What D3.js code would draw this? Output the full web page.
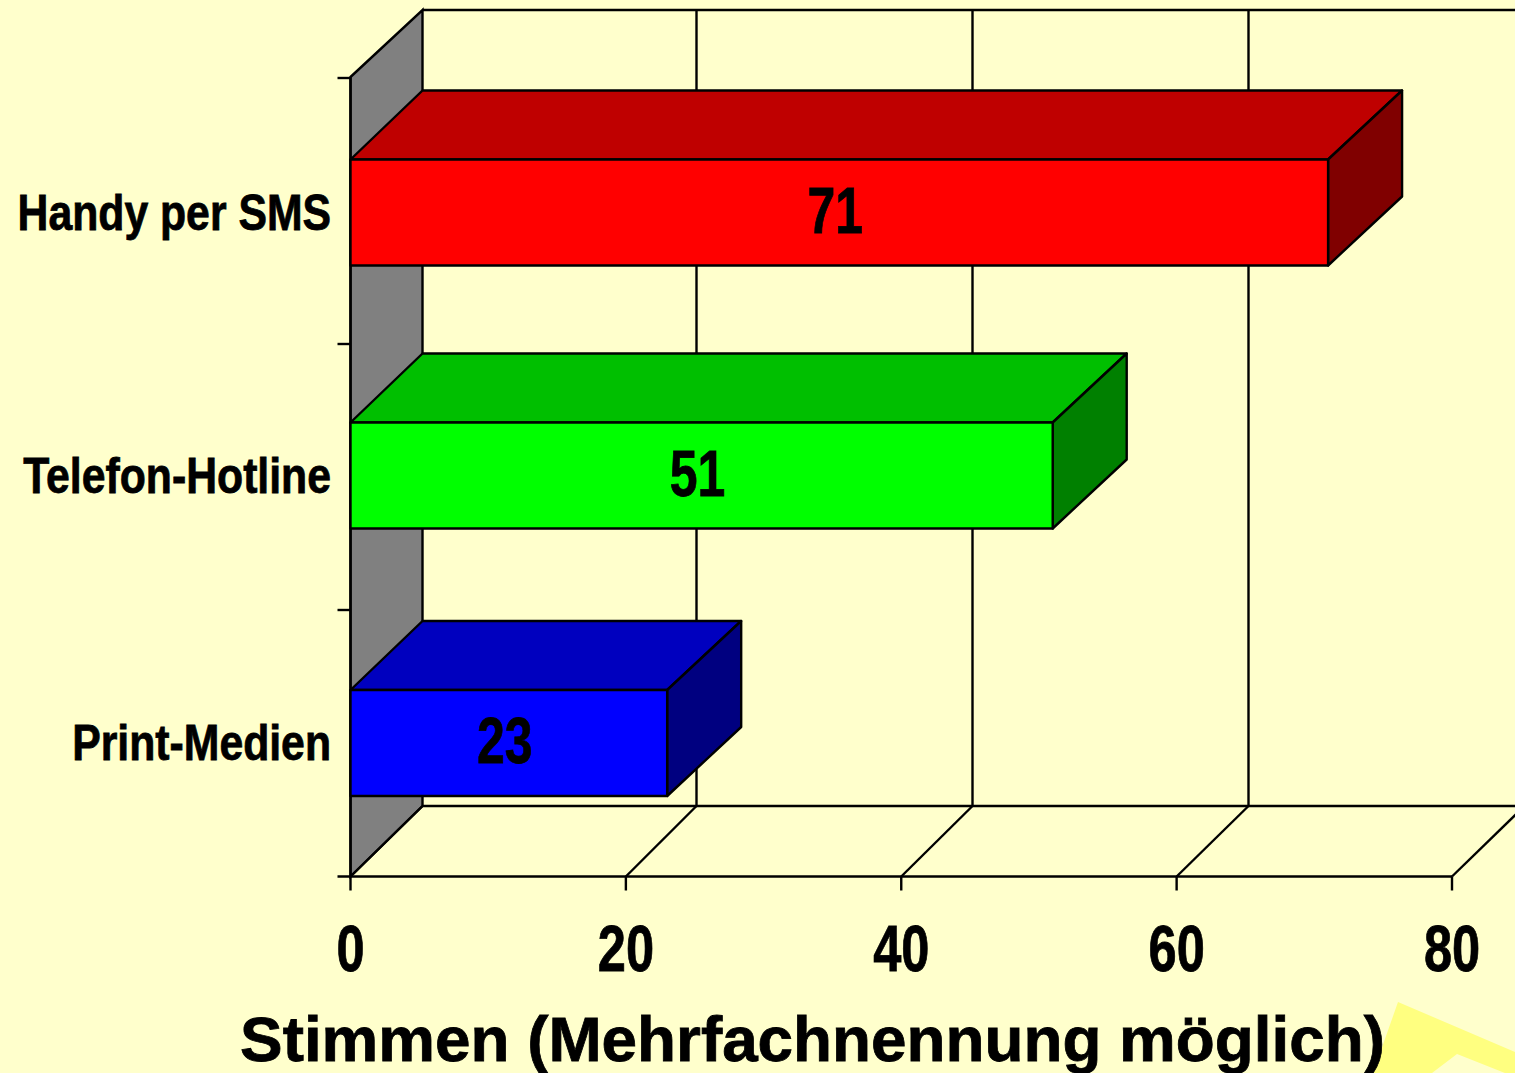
<!DOCTYPE html>
<html><head><meta charset="utf-8">
<script src="https://cdn.jsdelivr.net/npm/d3@7/dist/d3.min.js"></script>
<style>html,body{margin:0;padding:0;background:#FFFFCC;overflow:hidden}svg{display:block}text{font-family:"Liberation Sans",Arial,sans-serif;font-weight:bold;fill:#000;stroke:#000;stroke-width:.8px}</style>
</head><body><svg id="c" width="1515" height="1073"></svg>
<script>
const categories = ["Handy per SMS", "Telefon-Hotline", "Print-Medien"];
const values = [71, 51, 23];
const frontColors = ["#FF0000", "#00FF00", "#0000FF"];
const topColors = ["#BF0000", "#00BF00", "#0000BF"];
const sideColors = ["#800000", "#008000", "#000080"];
const xTicks = [0, 20, 40, 60, 80];
const axisTitle = "Stimmen (Mehrfachnennung möglich)";

const svg = d3.select("#c");
const W = 1515, H = 1073;
const x = d3.scaleLinear().domain([0, 80]).range([350.5, 1452]);
const xBack = d3.scaleLinear().domain([0, 80]).range([420.5, 1524.5]);
const band = d3.scaleBand().domain(categories).range([78, 876]);
const center = d3.scaleOrdinal().domain(categories).range([212.5, 475.5, 743]);
const barH = 106, depthX = 72, depthY = 69, barDX = 74;
const frontY = 876.5, topY = 77, backTop = 10, backBottom = 806;
const wallX = x(0) + depthX;
const ln = d3.line();

svg.append("path").attr("fill", "#FFFF80")
  .attr("d", "M1398,1002L1515,1052L1515,1077L1457,1054L1432,1073L1373,1073Z");

const g = svg.append("g").attr("stroke", "#000").attr("stroke-width", 2.4).attr("fill", "none");
// left wall
g.append("path").attr("fill", "#808080").attr("d", ln([
  [x(0), topY], [wallX, backTop], [wallX, backBottom], [x(0), frontY]
]) + "Z");
// back wall frame and gridlines
g.append("path").attr("d", ln([[wallX, backTop], [W + 5, backTop]]));
g.append("path").attr("d", ln([[wallX, backBottom], [W + 5, backBottom]]));
g.selectAll(".grid").data(xTicks.slice(1)).join("path")
  .attr("d", d => ln([[xBack(d), backTop], [xBack(d), backBottom]]));
// floor
g.selectAll(".floor").data(xTicks).join("path")
  .attr("d", d => ln([[x(d), frontY], [d ? xBack(d) : wallX, backBottom]]));
g.append("path").attr("d", ln([[x(0) - 13, frontY], [x(80), frontY]]));
g.selectAll(".xt").data(xTicks).join("path")
  .attr("d", d => ln([[x(d), frontY], [x(d), frontY + 14]]));
// y axis line and ticks
g.append("path").attr("d", ln([[x(0), topY], [x(0), frontY]]));
band.domain().forEach(c => {
  g.append("path").attr("d", ln([[x(0) - 13, band(c)], [x(0), band(c)]]));
});
// bars
categories.forEach((c, i) => {
  const y0 = center(c) - barH / 2;
  const x1 = x(values[i]);
  const b = svg.append("g").attr("stroke", "#000").attr("stroke-width", 2.4).attr("stroke-linejoin", "round");
  b.append("path").attr("fill", topColors[i]).attr("d", ln([[x(0), y0], [x(0) + depthX, y0 - depthY], [x1 + barDX, y0 - depthY], [x1, y0]]) + "Z");
  b.append("path").attr("fill", sideColors[i]).attr("d", ln([[x1, y0], [x1 + barDX, y0 - depthY], [x1 + barDX, y0 - depthY + barH], [x1, y0 + barH]]) + "Z");
  b.append("rect").attr("fill", frontColors[i]).attr("x", x(0)).attr("y", y0).attr("width", x1 - x(0)).attr("height", barH);
  svg.append("text").attr("text-anchor", "middle")
    .attr("transform", `translate(${(x(0) + x1) / 2 - 4},${y0 + 73}) scale(0.78,1)`)
    .attr("font-size", 64).text(values[i]);
  svg.append("text").attr("text-anchor", "end")
    .attr("transform", `translate(331,${y0 + 70}) scale(0.855,1)`)
    .attr("font-size", 50).text(c);
});
// x tick labels
svg.selectAll(".xl").data(xTicks).join("text").attr("text-anchor", "middle")
  .attr("transform", d => `translate(${x(d)},971) scale(0.79,1)`)
  .attr("font-size", 64).text(d => d);
svg.append("text").attr("x", 812.5).attr("y", 1061).attr("text-anchor", "middle")
  .attr("font-size", 63.8).text(axisTitle);
</script></body></html>
